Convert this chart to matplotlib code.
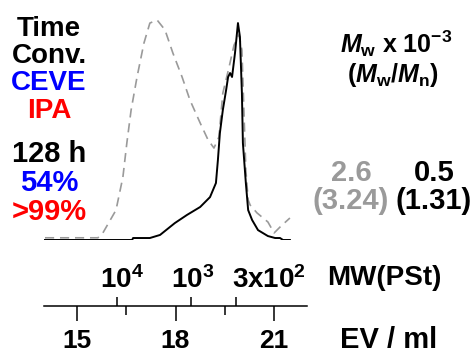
#!/usr/bin/env python3
import matplotlib
matplotlib.use("Agg")
import matplotlib.pyplot as plt
from matplotlib.transforms import blended_transform_factory

matplotlib.rcParams["font.family"] = ["Liberation Sans", "DejaVu Sans"]
matplotlib.rcParams["font.weight"] = "bold"
matplotlib.rcParams["mathtext.fontset"] = "custom"
matplotlib.rcParams["mathtext.rm"] = "Liberation Sans:bold"
matplotlib.rcParams["mathtext.bf"] = "Liberation Sans:bold"
matplotlib.rcParams["mathtext.it"] = "Liberation Sans:italic:bold"

# GPC traces (elution volume / ml, normalised RI intensity)
ev_dashed = [14.03, 15.64, 15.79, 16.19, 16.40, 16.52, 16.65, 16.83, 17.04, 17.22,
             17.44, 17.68, 17.92, 18.20, 18.44, 18.75, 18.99, 19.17, 19.32, 19.44,
             19.63, 19.78, 19.93, 20.02, 20.08, 20.14, 20.21, 20.27, 20.48, 20.81,
             21.00, 21.18, 21.48]
int_dashed = [0.010, 0.010, 0.032, 0.136, 0.286, 0.441, 0.591, 0.741, 0.895, 0.986,
              1.000, 0.955, 0.850, 0.741, 0.636, 0.532, 0.455, 0.418, 0.468, 0.668,
              0.786, 0.886, 0.932, 0.864, 0.591, 0.318, 0.182, 0.159, 0.123, 0.082,
              0.032, 0.059, 0.100]

ev_solid = [14.03, 16.68, 16.71, 17.22, 17.53, 17.98, 18.35, 18.75, 19.05, 19.23,
            19.29, 19.35, 19.44, 19.54, 19.60, 19.66, 19.72, 19.81, 19.90, 19.96,
            20.02, 20.05, 20.14, 20.21, 20.33, 20.51, 20.81, 21.03, 21.18, 21.27,
            21.48]
int_solid = [0.000, 0.000, 0.009, 0.009, 0.023, 0.077, 0.114, 0.150, 0.195, 0.259,
             0.364, 0.486, 0.591, 0.682, 0.741, 0.759, 0.741, 0.850, 0.986, 0.923,
             0.668, 0.441, 0.259, 0.136, 0.091, 0.045, 0.018, 0.009, 0.009, 0.000,
             0.000]

ev_major = [15, 18, 21]
ev_minor = [16.5, 19.5]
mw_tick_ev = [16.23, 18.47, 19.84]
mw_label_ev = [16.36, 18.52, 20.84]
mw_labels = [r"$\mathbf{10^4}$", r"$\mathbf{10^3}$", r"$\mathbf{3x10^2}$"]

left_lines = ["Time", "Conv.", "CEVE", "IPA", "128 h", "54%", ">99%"]
left_colors = ["black", "black", "blue", "red", "black", "blue", "red"]
left_sizes = [20, 20, 20, 20, 21, 21, 21]
left_base = [36, 63, 90, 118, 162, 191, 220]

mw_values = ["2.6", "0.5"]
pdi_values = ["(3.24)", "(1.31)"]
value_colors = ["#9a9a9a", "black"]
value_x = [351, 434]

W, H = 477, 355
fig = plt.figure(figsize=(W / 100, H / 100), dpi=100)


def px(x, y):
    return x / W, 1 - y / H


# chromatograms
ax = fig.add_axes([44 / W, (H - 240) / H, 263 / W, 231 / H])
ax.set_xlim(14, 22)
ax.set_ylim(0, 1.05)
ax.axis("off")
ax.plot(ev_dashed, int_dashed, color="#9a9a9a", lw=1.2, linestyle=(0, (5.5, 3.5)), zorder=2)
ax.plot(ev_solid, int_solid, color="black", lw=1.4, zorder=3)

# elution volume axis with MW calibration ticks
ax_ev = fig.add_axes([44 / W, (H - 306) / H, 263 / W, 0.001])
ax_ev.set_xlim(14, 22)
ax_ev.set_yticks([])
for s in ["left", "right", "top"]:
    ax_ev.spines[s].set_visible(False)
ax_ev.spines["bottom"].set_linewidth(1.1)
ax_ev.set_xticks(ev_major)
ax_ev.set_xticks(ev_minor, minor=True)
ax_ev.set_xticklabels([str(v) for v in ev_major], fontsize=19, fontweight="bold")
ax_ev.tick_params(axis="x", which="major", length=10.8, width=1.1, pad=6)
ax_ev.tick_params(axis="x", which="minor", length=6.5, width=1.1)

ax_mw = ax_ev.twiny()
ax_mw.set_xlim(14, 22)
for s in ax_mw.spines.values():
    s.set_visible(False)
ax_mw.set_xticks(mw_tick_ev)
ax_mw.set_xticklabels([])
ax_mw.tick_params(axis="x", which="major", length=6.5, width=1.1, direction="out")
mw_trans = blended_transform_factory(ax_mw.transData, fig.transFigure)
for xe, lab in zip(mw_label_ev, mw_labels):
    ax_mw.text(xe, 1 - 288 / H, lab, transform=mw_trans, ha="center", va="baseline",
               fontsize=20)

fig.text(*px(327, 285), "MW(PSt)", fontsize=20, ha="left", va="baseline")
fig.text(*px(340, 348), "EV / ml", fontsize=21, ha="left", va="baseline")

# sample legend on the left
for s, c, fs, yb in zip(left_lines, left_colors, left_sizes, left_base):
    fig.text(*px(49, yb), s, color=c, fontsize=fs, ha="center", va="baseline")

# molecular weight header and values
fig.text(*px(396, 53), r"$\mathit{M}_\mathrm{w}$ x 10$^{\mathrm{-3}}$", fontsize=18,
         ha="center", va="baseline")
fig.text(*px(393, 82), r"($\mathit{M}_\mathrm{w}$/$\mathit{M}_\mathrm{n}$)", fontsize=18,
         ha="center", va="baseline")
for xv, mv, pv, c in zip(value_x, mw_values, pdi_values, value_colors):
    fig.text(*px(xv, 181), mv, color=c, fontsize=21, ha="center", va="baseline")
    fig.text(*px(xv, 209), pv, color=c, fontsize=21, ha="center", va="baseline")

fig.savefig("out.png", dpi=100)
